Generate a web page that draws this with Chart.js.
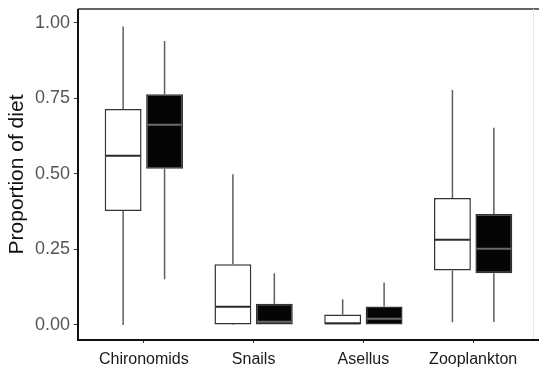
<!DOCTYPE html>
<html lang="en">
<head>
    <meta charset="UTF-8" />
    <title>Proportion of diet</title>
    <script src="https://cdn.jsdelivr.net/npm/chart.js"></script>
    <style>
        html, body { margin: 0; padding: 0; background: #fff; overflow: hidden; }
        #wrap { width: 539px; height: 369px; }
    </style>
</head>
<body>
<div id="wrap"><canvas id="chart" width="539" height="369"></canvas></div>

<script>
    // categories and tick labels
    const categories = ['Chironomids', 'Snails', 'Asellus', 'Zooplankton'];
    const yTicks = [0, 0.25, 0.5, 0.75, 1];

    // white boxes (first group): min, q1, median, q3, max
    const whiteMin = [0.000, 0.000, 0.000, 0.009];
    const whiteQ1  = [0.377, 0.002, 0.000, 0.180];
    const whiteMed = [0.560, 0.060, 0.006, 0.282];
    const whiteQ3  = [0.715, 0.201, 0.035, 0.420];
    const whiteMax = [0.988, 0.499, 0.085, 0.778];

    // black boxes (second group)
    const blackMin = [0.151, 0.000, 0.000, 0.010];
    const blackQ1  = [0.517, 0.000, 0.000, 0.171];
    const blackMed = [0.663, 0.011, 0.021, 0.252];
    const blackQ3  = [0.764, 0.070, 0.061, 0.367];
    const blackMax = [0.940, 0.171, 0.141, 0.653];

    const groups = [
        { min: whiteMin, q1: whiteQ1, med: whiteMed, q3: whiteQ3, max: whiteMax, fill: '#ffffff', medColor: '#2a2a2a' },
        { min: blackMin, q1: blackQ1, med: blackMed, q3: blackQ3, max: blackMax, fill: '#050505', medColor: '#6a6a6a' }
    ];

    // whiskers behind boxes, medians on top, frame around the panel
    const boxplotPlugin = {
        id: 'boxplot',
        beforeDatasetsDraw(chart) {
            const ctx = chart.ctx, y = chart.scales.y;
            ctx.save();
            ctx.strokeStyle = '#5e5e5e';
            ctx.lineWidth = 1.5;
            groups.forEach((g, di) => {
                chart.getDatasetMeta(di).data.forEach((el, i) => {
                    ctx.beginPath();
                    ctx.moveTo(el.x, y.getPixelForValue(g.max[i]));
                    ctx.lineTo(el.x, y.getPixelForValue(g.q3[i]));
                    ctx.moveTo(el.x, y.getPixelForValue(g.q1[i]));
                    ctx.lineTo(el.x, y.getPixelForValue(g.min[i]));
                    ctx.stroke();
                });
            });
            ctx.restore();
        },
        afterDatasetsDraw(chart) {
            const ctx = chart.ctx, y = chart.scales.y;
            ctx.save();
            ctx.lineWidth = 2;
            groups.forEach((g, di) => {
                ctx.strokeStyle = g.medColor;
                chart.getDatasetMeta(di).data.forEach((el, i) => {
                    const py = y.getPixelForValue(g.med[i]);
                    ctx.beginPath();
                    ctx.moveTo(el.x - el.width / 2 + 1, py);
                    ctx.lineTo(el.x + el.width / 2 - 1, py);
                    ctx.stroke();
                });
            });
            const a = chart.chartArea;
            ctx.strokeStyle = '#333';
            ctx.lineWidth = 1.5;
            ctx.beginPath();
            ctx.moveTo(a.left, a.top);
            ctx.lineTo(a.right, a.top);
            ctx.stroke();
            ctx.strokeStyle = '#e6e6e6';
            ctx.lineWidth = 1;
            ctx.beginPath();
            ctx.moveTo(a.right - 5.5, a.top);
            ctx.lineTo(a.right - 5.5, a.bottom);
            ctx.stroke();
            ctx.strokeStyle = '#111';
            ctx.lineWidth = 2;
            ctx.beginPath();
            ctx.moveTo(a.left, a.top);
            ctx.lineTo(a.left, a.bottom);
            ctx.lineTo(a.right, a.bottom);
            ctx.stroke();
            ctx.restore();
        }
    };

    new Chart(document.getElementById('chart'), {
        type: 'bar',
        data: {
            datasets: groups.map(g => ({
                data: categories.map((c, i) => ({ x: i, y: [g.q1[i], g.q3[i]] })),
                backgroundColor: g.fill,
                borderColor: '#333',
                borderWidth: 1.5,
                borderSkipped: false,
                categoryPercentage: 0.755,
                barPercentage: 0.89
            }))
        },
        options: {
            responsive: false,
            animation: false,
            layout: { padding: { top: 9, right: 0, left: 0, bottom: 0 } },
            plugins: { legend: { display: false }, tooltip: { enabled: false } },
            scales: {
                x: {
                    type: 'linear',
                    offset: false,
                    min: -0.6,
                    max: 3.6,
                    afterBuildTicks: s => { s.ticks = categories.map((c, i) => ({ value: i })); },
                    afterFit: s => { s.height = 29; s.paddingLeft = 0; s.paddingRight = 0; },
                    border: { display: false },
                    grid: { offset: false, drawOnChartArea: false, drawTicks: true, tickLength: 3, color: '#333' },
                    ticks: {
                        padding: 7,
                        autoSkip: false,
                        maxRotation: 0,
                        color: '#1a1a1a',
                        font: { family: 'Liberation Sans, Arial, sans-serif', size: 16 },
                        callback: v => categories[v]
                    }
                },
                y: {
                    min: -0.0497,
                    max: 1.046,
                    afterBuildTicks: s => { s.ticks = yTicks.map(v => ({ value: v })); },
                    afterFit: s => { s.width = 78; s.paddingTop = 0; s.paddingBottom = 0; },
                    border: { display: false },
                    grid: { drawOnChartArea: false, drawTicks: true, tickLength: 4, color: '#333' },
                    ticks: {
                        padding: 4,
                        color: '#555',
                        font: { family: 'Liberation Sans, Arial, sans-serif', size: 18 },
                        callback: v => v.toFixed(2)
                    },
                    title: {
                        display: true,
                        text: 'Proportion of diet',
                        color: '#111',
                        padding: { top: 5, bottom: 0 },
                        font: { family: 'Liberation Sans, Arial, sans-serif', size: 21 }
                    }
                }
            }
        },
        plugins: [boxplotPlugin]
    });
</script>
</body>
</html>
